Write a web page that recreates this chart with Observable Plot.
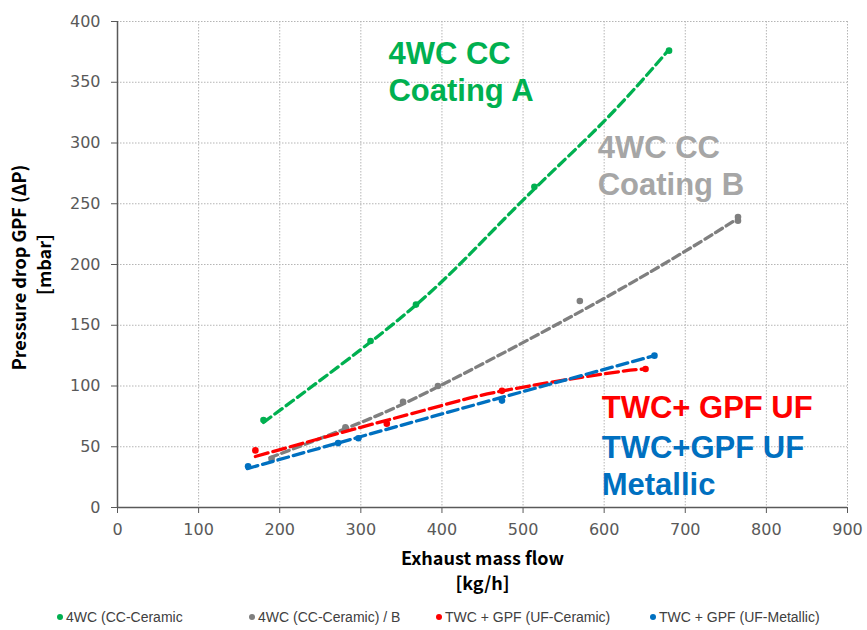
<!DOCTYPE html>
<html>
<head>
<meta charset="utf-8">
<script src="https://cdn.jsdelivr.net/npm/d3@7"></script>
<script src="https://cdn.jsdelivr.net/npm/@observablehq/plot@0.6"></script>
<style>
  body { margin: 0; background: #fff; }
  #wrap { position: relative; width: 867px; height: 630px; }
  #legend { position: absolute; left: 0; top: 600px; width: 867px; height: 30px; font-family: "Liberation Sans", Arial, sans-serif; font-size: 14px; color: #404040; }
  .li { position: absolute; top: 9px; white-space: nowrap; }
  .dot { display: inline-block; width: 6px; height: 6px; border-radius: 50%; margin-right: 3px; vertical-align: 2px; }
</style>
</head>
<body>
<div id="wrap"><div id="chart"></div><div id="legend"></div></div>
<script>
// ---- data ----
const xTicks = [0, 100, 200, 300, 400, 500, 600, 700, 800, 900];
const yTicks = [0, 50, 100, 150, 200, 250, 300, 350, 400];

const seriesNames = ["4WC (CC-Ceramic", "4WC (CC-Ceramic) / B", "TWC + GPF (UF-Ceramic)", "TWC + GPF (UF-Metallic)"];

const greenX = [180, 312, 368, 514, 680];
const greenY = [72, 137, 167, 264, 376];
const grayX = [190, 281, 352, 395, 570, 765, 765];
const grayY = [40, 66, 87, 100, 170, 236, 239];
const redX = [170, 332, 474, 651];
const redY = [47, 69, 96, 114];
const blueX = [161, 272, 297, 474, 662];
const blueY = [34, 53, 57, 88, 125];

// trend lines
const greenTrendX = [180, 300, 400, 500, 600, 680];
const greenTrendY = [70, 130, 186, 253, 318, 377];
const grayTrendX = [188, 300, 400, 570, 700, 765];
const grayTrendY = [41, 70, 101, 161, 211, 238];
const redTrendX = [170, 300, 400, 475, 600, 651];
const redTrendY = [42, 66, 84, 96, 110, 114];
const blueTrendX = [160, 400, 662];
const blueTrendY = [32, 77, 125];

const annoText = ["4WC CC\nCoating A", "4WC CC\nCoating B", "TWC+ GPF UF", "TWC+GPF UF\nMetallic"];
const annoX = [334, 592, 597, 597];
const annoY = [334.7, 257.4, 73.8, 10.5];

const colors = ["#00B050", "#7F7F7F", "#FF0000", "#0070C0"];
const annoColors = ["#00B050", "#A6A6A6", "#FF0000", "#0070C0"];

const zip = (xs, ys) => xs.map((x, i) => ({x, y: ys[i]}));
const pts = [zip(greenX, greenY), zip(grayX, grayY), zip(redX, redY), zip(blueX, blueY)];
const trends = [zip(greenTrendX, greenTrendY), zip(grayTrendX, grayTrendY), zip(redTrendX, redTrendY), zip(blueTrendX, blueTrendY)];
const dashes = ["9,5", "8,4.5", "13,5", "11,5"];
const drawOrder = [1, 2, 3, 0];

const annos = annoText.map((t, i) => ({t, x: annoX[i], y: annoY[i], c: annoColors[i]}));

const marks = [
  Plot.gridX(xTicks, {stroke: "#b5b5b5", strokeOpacity: 1, strokeDasharray: "1.5,1.5"}),
  Plot.gridY(yTicks, {stroke: "#b5b5b5", strokeOpacity: 1, strokeDasharray: "1.5,1.5"}),
  Plot.axisX({ticks: xTicks, tickSize: 6, tickPadding: 10, label: null, stroke: "#595959", fill: "#595959"}),
  Plot.axisY({ticks: yTicks, tickSize: 6, tickPadding: 11, label: null, stroke: "#595959", fill: "#595959"}),
  Plot.ruleX([0], {stroke: "#595959", strokeWidth: 1.5}),
  Plot.ruleY([0], {stroke: "#595959", strokeWidth: 1.5}),
];
for (const i of drawOrder) {
  marks.push(Plot.line(trends[i], {x: "x", y: "y", stroke: colors[i], strokeWidth: 3.3, strokeDasharray: dashes[i], curve: "natural"}));
  marks.push(Plot.dot(pts[i], {x: "x", y: "y", fill: colors[i], r: 3.3}));
}
marks.push(Plot.text(annos, {x: "x", y: "y", text: "t", fill: "c", textAnchor: "start", lineAnchor: "bottom", lineHeight: 1.2, fontSize: 31, fontWeight: "bold", fontFamily: "Liberation Sans, Arial, sans-serif"}));
// axis titles
marks.push(Plot.text(["Pressure drop GPF (\u0394P)"], {frameAnchor: "left", dx: -97, dy: 3, rotate: -90, textAnchor: "middle", lineAnchor: "middle", fontSize: 18, fontWeight: "bold", fill: "#000", fontFamily: "Noto Sans CJK JP, sans-serif"}));
marks.push(Plot.text(["[mbar]"], {frameAnchor: "left", dx: -72, dy: 0, rotate: -90, textAnchor: "middle", lineAnchor: "middle", fontSize: 18, fontWeight: "bold", fill: "#000", fontFamily: "Noto Sans CJK JP, sans-serif"}));
marks.push(Plot.text(["Exhaust mass flow"], {frameAnchor: "bottom", dy: 57, lineAnchor: "bottom", fontSize: 18, fontWeight: "bold", fill: "#000", fontFamily: "Noto Sans CJK JP, sans-serif"}));
marks.push(Plot.text(["[kg/h]"], {frameAnchor: "bottom", dy: 82, lineAnchor: "bottom", fontSize: 18, fontWeight: "bold", fill: "#000", fontFamily: "Noto Sans CJK JP, sans-serif"}));

const chart = Plot.plot({
  width: 867,
  height: 600,
  marginTop: 21,
  marginBottom: 93,
  marginLeft: 117,
  marginRight: 20,
  x: {domain: [0, 900]},
  y: {domain: [0, 400]},
  style: {fontFamily: "DejaVu Sans, sans-serif", fontSize: "16px", color: "#595959", background: "#fff", overflow: "visible"},
  marks
});
document.getElementById("chart").appendChild(chart);

// legend
const legendLeft = [57, 249, 436, 650];
const legend = document.getElementById("legend");
seriesNames.forEach((name, i) => {
  const d = document.createElement("div");
  d.className = "li";
  d.style.left = legendLeft[i] + "px";
  d.innerHTML = `<span class="dot" style="background:${colors[i]}"></span>${name}`;
  legend.appendChild(d);
});
</script>
</body>
</html>
